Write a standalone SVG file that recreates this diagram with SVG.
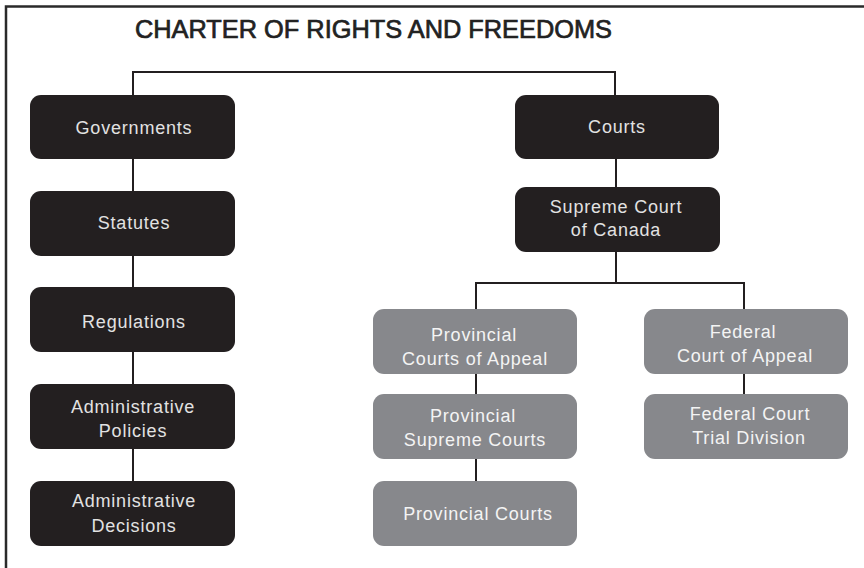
<svg xmlns="http://www.w3.org/2000/svg" width="864" height="568" viewBox="0 0 864 568">
<style>
.frame{fill:none;stroke:#2a2a2a;stroke-width:2.5}
.dark rect{fill:#231f20}
.gray rect{fill:#87888c}
.dark text{fill:#e2e2e2}
.gray text{fill:#f4f4f4}
text{font-family:"Liberation Sans",Arial,sans-serif;font-size:18px;letter-spacing:0.8px;text-anchor:middle}
.title{font-size:25px;fill:#222;stroke:#222;stroke-width:0.7;text-anchor:start;letter-spacing:0}
.conn path{fill:none;stroke:#231f20;stroke-width:2}
</style>
<rect width="864" height="568" fill="#fff"/>
<path class="frame" d="M6 570 V6.5 H866"/>
<text class="title" x="135" y="38" textLength="477" lengthAdjust="spacingAndGlyphs">CHARTER OF RIGHTS AND FREEDOMS</text>
<g class="conn" id="connectors">
<path d="M133 95 V72 H615 V95"/>
<path d="M133 159 V191"/>
<path d="M133 256 V287"/>
<path d="M133 352 V384"/>
<path d="M133 449 V481"/>
<path d="M616 159 V187"/>
<path d="M616 252 V283"/>
<path d="M476 309 V283 H744 V309"/>
<path d="M476 374 V394"/>
<path d="M476 459 V481"/>
<path d="M744 374 V394"/>
</g>
<g id="governments" class="dark"><rect x="30" y="95" width="205" height="64" rx="11"/><text x="134" y="134">Governments</text></g>
<g id="statutes" class="dark"><rect x="30" y="191" width="205" height="65" rx="11"/><text x="134" y="229">Statutes</text></g>
<g id="regulations" class="dark"><rect x="30" y="287" width="205" height="65" rx="11"/><text x="134" y="328">Regulations</text></g>
<g id="admin-policies" class="dark"><rect x="30" y="384" width="205" height="65" rx="11"/><text x="133" y="413">Administrative</text><text x="133" y="437">Policies</text></g>
<g id="admin-decisions" class="dark"><rect x="30" y="481" width="205" height="65" rx="11"/><text x="134" y="507">Administrative</text><text x="134" y="532">Decisions</text></g>
<g id="courts" class="dark"><rect x="515" y="95" width="204" height="64" rx="11"/><text x="617" y="133">Courts</text></g>
<g id="supreme-court" class="dark"><rect x="515" y="187" width="205" height="65" rx="11"/><text x="616" y="213">Supreme Court</text><text x="616" y="236">of Canada</text></g>
<g id="prov-appeal" class="gray"><rect x="373" y="309" width="204" height="65" rx="11"/><text x="474" y="341">Provincial</text><text x="475" y="365">Courts of Appeal</text></g>
<g id="prov-supreme" class="gray"><rect x="373" y="394" width="204" height="65" rx="11"/><text x="473" y="422">Provincial</text><text x="475" y="446">Supreme Courts</text></g>
<g id="prov-courts" class="gray"><rect x="373" y="481" width="204" height="65" rx="11"/><text x="478" y="520">Provincial Courts</text></g>
<g id="fed-appeal" class="gray"><rect x="644" y="309" width="204" height="65" rx="11"/><text x="743" y="338">Federal</text><text x="745" y="362">Court of Appeal</text></g>
<g id="fed-trial" class="gray"><rect x="644" y="394" width="204" height="65" rx="11"/><text x="750" y="420">Federal Court</text><text x="749" y="444">Trial Division</text></g>
</svg>
